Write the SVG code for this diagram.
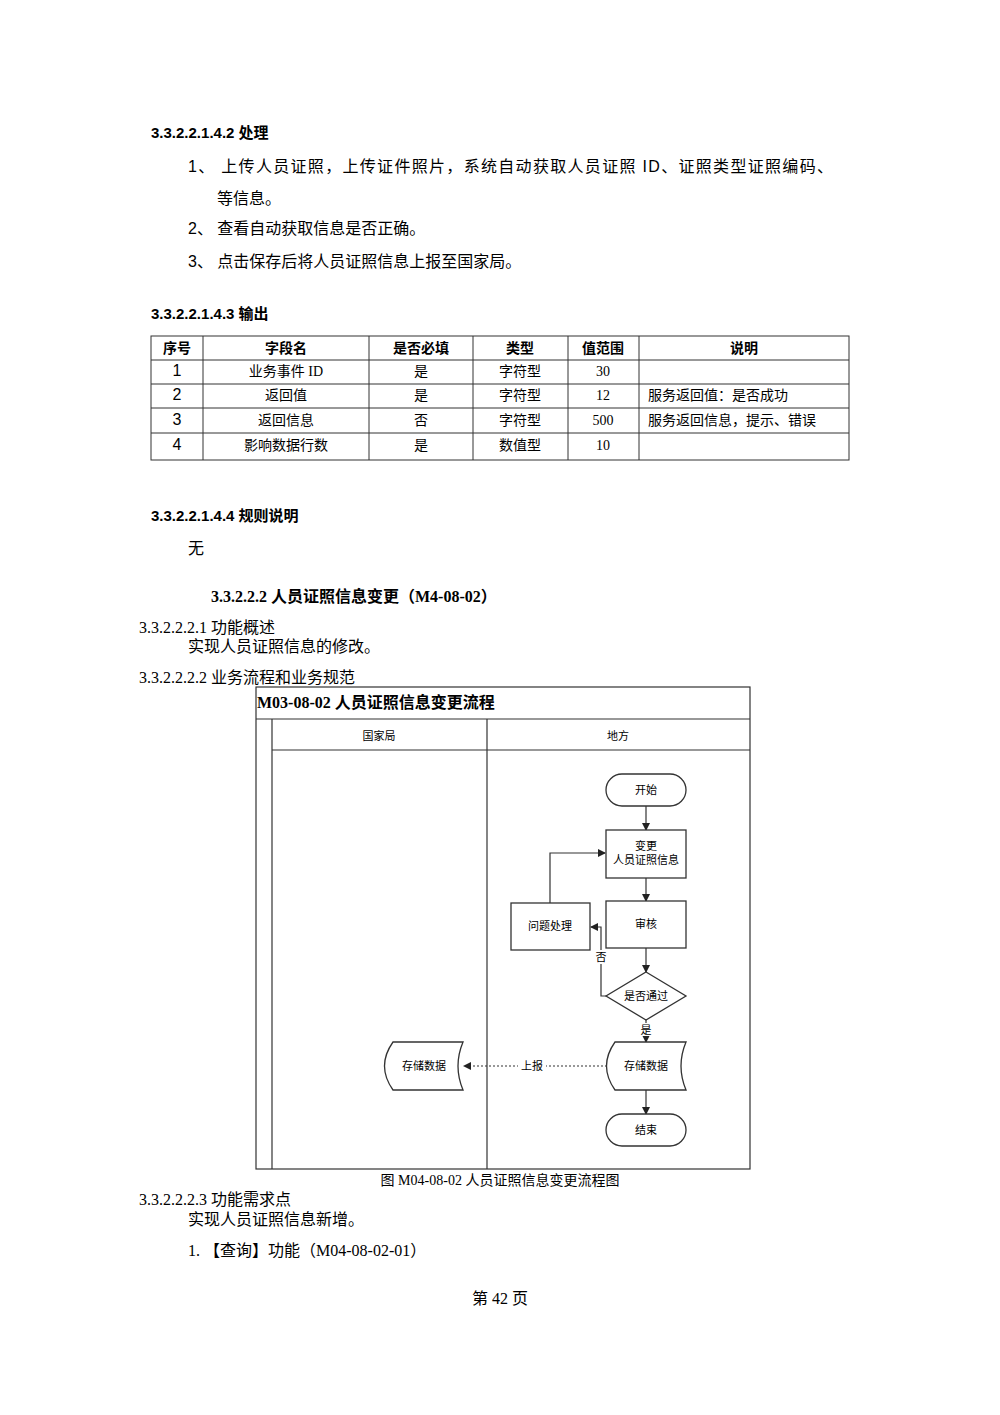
<svg xmlns="http://www.w3.org/2000/svg" width="1000" height="1415" viewBox="0 0 1000 1415">
<defs>
<style>
.h{font-family:"Liberation Sans","Noto Sans CJK SC",sans-serif;font-weight:bold;font-size:15px}
.b{font-family:"Liberation Sans","Noto Sans CJK SC",sans-serif;font-size:16px}
.s{font-family:"Liberation Serif","Noto Sans CJK SC",serif;font-size:16px}
.t{font-family:"Liberation Serif","Noto Sans CJK SC",serif;font-size:14px}
.th{font-family:"Liberation Sans","Noto Sans CJK SC",sans-serif;font-weight:bold;font-size:14px}
.n{font-family:"Liberation Sans","Noto Sans CJK SC",sans-serif;font-size:11px}
.ln{stroke:#333;stroke-width:1.2;fill:none}
.nd{fill:#fff;stroke:#333;stroke-width:1.3}
</style>
<marker id="a" markerWidth="8" markerHeight="8" refX="7" refY="4" orient="auto" markerUnits="userSpaceOnUse"><path d="M0,0 L8,4 L0,8 z" fill="#222"/></marker>
</defs>
<rect width="1000" height="1415" fill="#fff"/>
<text class="h" x="151" y="138">3.3.2.2.1.4.2  处理</text>
<text class="b" x="188" y="172" textLength="645">1、 上传人员证照，上传证件照片，系统自动获取人员证照 ID、证照类型证照编码、</text>
<text class="b" x="217" y="204">等信息。</text>
<text class="b" x="188" y="234">2、 查看自动获取信息是否正确。</text>
<text class="b" x="188" y="267">3、 点击保存后将人员证照信息上报至国家局。</text>
<text class="h" x="151" y="319">3.3.2.2.1.4.3  输出</text>
<g id="table" stroke="#333" stroke-width="1">
<rect x="151" y="336" width="698" height="124" fill="none"/>
<line x1="151" y1="360" x2="849" y2="360"/><line x1="151" y1="384" x2="849" y2="384"/><line x1="151" y1="408" x2="849" y2="408"/><line x1="151" y1="433" x2="849" y2="433"/>
<line x1="203" y1="336" x2="203" y2="460"/><line x1="369" y1="336" x2="369" y2="460"/><line x1="473" y1="336" x2="473" y2="460"/><line x1="568" y1="336" x2="568" y2="460"/><line x1="639" y1="336" x2="639" y2="460"/>
</g>
<g text-anchor="middle">
<text class="th" x="177" y="353">序号</text><text class="th" x="286" y="353">字段名</text><text class="th" x="421" y="353">是否必填</text><text class="th" x="520" y="353">类型</text><text class="th" x="603" y="353">值范围</text><text class="th" x="744" y="353">说明</text>
<text class="b" font-size="14" x="177" y="376">1</text><text class="t" x="286" y="376">业务事件 ID</text><text class="t" x="421" y="376">是</text><text class="t" x="520" y="376">字符型</text><text class="t" x="603" y="376">30</text>
<text class="b" font-size="14" x="177" y="400">2</text><text class="t" x="286" y="400">返回值</text><text class="t" x="421" y="400">是</text><text class="t" x="520" y="400">字符型</text><text class="t" x="603" y="400">12</text>
<text class="b" font-size="14" x="177" y="425">3</text><text class="t" x="286" y="425">返回信息</text><text class="t" x="421" y="425">否</text><text class="t" x="520" y="425">字符型</text><text class="t" x="603" y="425">500</text>
<text class="b" font-size="14" x="177" y="450">4</text><text class="t" x="286" y="450">影响数据行数</text><text class="t" x="421" y="450">是</text><text class="t" x="520" y="450">数值型</text><text class="t" x="603" y="450">10</text>
</g>
<text class="t" x="648" y="400">服务返回值：是否成功</text>
<text class="t" x="648" y="425">服务返回信息，提示、错误</text>
<text class="h" x="151" y="521">3.3.2.2.1.4.4  规则说明</text>
<text class="s" x="188" y="554">无</text>
<text class="s" font-weight="bold" x="211" y="602">3.3.2.2.2 人员证照信息变更（M4-08-02）</text>
<text class="s" x="139" y="633">3.3.2.2.2.1  功能概述</text>
<text class="s" x="188" y="652">实现人员证照信息的修改。</text>
<text class="s" x="139" y="683">3.3.2.2.2.2  业务流程和业务规范</text>
<g id="frame" stroke="#333" stroke-width="1.2" fill="none">
<rect x="256" y="687" width="494" height="482"/>
<line x1="256" y1="719" x2="750" y2="719"/>
<line x1="272" y1="719" x2="272" y2="1169"/>
<line x1="272" y1="750" x2="750" y2="750"/>
<line x1="487" y1="719" x2="487" y2="1169"/>
</g>
<text class="s" font-weight="bold" font-size="15" x="257" y="708">M03-08-02 人员证照信息变更流程</text>
<text class="n" font-size="14" x="379" y="740" text-anchor="middle">国家局</text>
<text class="n" font-size="14" x="618" y="740" text-anchor="middle">地方</text>
<g id="connectors" class="ln">
<line x1="646" y1="806" x2="646" y2="830" marker-end="url(#a)"/>
<line x1="646" y1="878" x2="646" y2="901" marker-end="url(#a)"/>
<line x1="646" y1="948" x2="646" y2="972" marker-end="url(#a)"/>
<polyline points="606,996 601,996 601,927 591,927" marker-end="url(#a)"/>
<polyline points="550,903 550,853 605,853" marker-end="url(#a)"/>
<line x1="646" y1="1020" x2="646" y2="1042" marker-end="url(#a)"/>
<line x1="607" y1="1066" x2="464" y2="1066" stroke-dasharray="2,2" marker-end="url(#a)"/>
<line x1="646" y1="1090" x2="646" y2="1114" marker-end="url(#a)"/>
</g>
<g class="n" text-anchor="middle">
<rect x="594" y="950" width="14" height="14" fill="#fff"/><text x="601" y="961">否</text>
<rect x="639" y="1023" width="14" height="13" fill="#fff"/><text x="646" y="1034">是</text>
<rect x="518" y="1059" width="28" height="14" fill="#fff"/><text x="532" y="1070">上报</text>
</g>
<g id="start"><rect class="nd" x="606" y="774" width="80" height="32" rx="16"/><text class="n" x="646" y="794" text-anchor="middle">开始</text></g>
<g id="change"><rect class="nd" x="606" y="830" width="80" height="48"/><text class="n" x="646" y="850" text-anchor="middle">变更</text><text class="n" x="646" y="864" text-anchor="middle">人员证照信息</text></g>
<g id="review"><rect class="nd" x="606" y="901" width="80" height="47"/><text class="n" x="646" y="928" text-anchor="middle">审核</text></g>
<g id="issue"><rect class="nd" x="511" y="903" width="79" height="47"/><text class="n" x="550" y="930" text-anchor="middle">问题处理</text></g>
<g id="decision"><polygon class="nd" points="646,972 686,996 646,1020 606,996"/><text class="n" x="646" y="1000" text-anchor="middle">是否通过</text></g>
<g id="store-local"><path class="nd" d="M615,1042 L686,1042 Q676,1066 686,1090 L615,1090 Q598,1066 615,1042 Z"/><text class="n" x="646" y="1070" text-anchor="middle">存储数据</text></g>
<g id="store-nat"><path class="nd" d="M393,1042 L463,1042 Q453,1066 463,1090 L393,1090 Q376,1066 393,1042 Z"/><text class="n" x="424" y="1070" text-anchor="middle">存储数据</text></g>
<g id="end"><rect class="nd" x="606" y="1114" width="80" height="32" rx="16"/><text class="n" x="646" y="1134" text-anchor="middle">结束</text></g>
<text class="t" x="500" y="1185" text-anchor="middle">图 M04-08-02 人员证照信息变更流程图</text>
<text class="s" x="139" y="1205">3.3.2.2.2.3  功能需求点</text>
<text class="s" x="188" y="1225">实现人员证照信息新增。</text>
<text class="s" x="188" y="1256">1. 【查询】功能（M04-08-02-01）</text>
<text class="s" font-size="15" x="500" y="1304" text-anchor="middle">第 42 页</text>
</svg>
